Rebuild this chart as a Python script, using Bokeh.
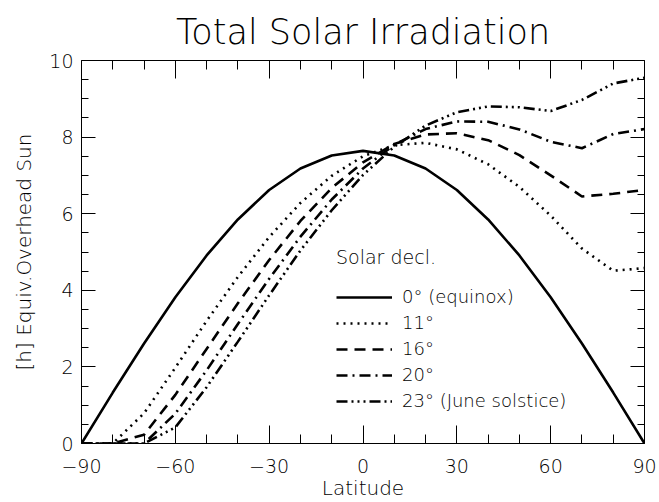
from bokeh.plotting import figure
from bokeh.models import FixedTicker, LinearAxis, Legend, LegendItem, Range1d
from bokeh.embed import file_html
from bokeh.resources import INLINE

# ---- data ----
latitude = [-90, -80, -70, -60, -50, -40, -30, -20, -10, 0, 10, 20, 30, 40, 50, 60, 70, 80, 90]
decl_0 = [0.00, 1.33, 2.61, 3.82, 4.91, 5.85, 6.62, 7.18, 7.52, 7.64, 7.52, 7.18, 6.62, 5.85, 4.91, 3.82, 2.61, 1.33, 0.00]
decl_11 = [0.00, 0.00, 0.79, 1.98, 3.20, 4.35, 5.39, 6.28, 6.99, 7.50, 7.79, 7.85, 7.68, 7.29, 6.70, 5.95, 5.09, 4.51, 4.58]
decl_16 = [0.00, 0.00, 0.23, 1.27, 2.47, 3.66, 4.79, 5.81, 6.67, 7.34, 7.82, 8.07, 8.10, 7.92, 7.53, 7.00, 6.45, 6.52, 6.62]
decl_20 = [0.00, 0.00, 0.00, 0.78, 1.91, 3.12, 4.30, 5.40, 6.37, 7.18, 7.80, 8.21, 8.41, 8.40, 8.20, 7.88, 7.71, 8.08, 8.21]
decl_23 = [0.00, 0.00, 0.00, 0.42, 1.47, 2.66, 3.87, 5.04, 6.09, 7.01, 7.75, 8.30, 8.65, 8.80, 8.78, 8.68, 8.97, 9.40, 9.55]
series_labels = ["0° (equinox)", "11°", "16°", "20°", "23° (June solstice)"]

x_ticks = [-90, -60, -30, 0, 30, 60, 90]
x_tick_labels = ["−90", "−60", "−30", "0", "30", "60", "90"]
x_minor = [-80, -70, -50, -40, -20, -10, 10, 20, 40, 50, 70, 80]
y_ticks = [0, 2, 4, 6, 8, 10]
y_tick_labels = ["0", "2", "4", "6", "8", "10"]
y_minor = [0.5, 1, 1.5, 2.5, 3, 3.5, 4.5, 5, 5.5, 6.5, 7, 7.5, 8.5, 9, 9.5]

# ---- styles ----
FONT = "'DejaVu Sans Light', 'DejaVu Sans'"
dashes = ["solid", "2 5", "11 7", "11 5 2 5", "11 4 2 4 2 4 2 4"]

p = figure(frame_width=563, frame_height=383,
           x_range=Range1d(-90, 90), y_range=Range1d(0, 10),
           output_backend="svg", toolbar_location=None,
           min_border_left=81, min_border_right=15, min_border_top=60, min_border_bottom=48)
p.xgrid.grid_line_color = None
p.ygrid.grid_line_color = None
p.outline_line_color = None
p.background_fill_color = "white"
p.border_fill_color = "white"

p.title.text = "Total Solar Irradiation"
p.title.align = "center"
p.title.text_font = FONT
p.title.text_font_size = "35px"
p.title.text_font_style = "normal"
p.title.text_color = "black"
p.title.standoff = 18

xt = FixedTicker(ticks=x_ticks, minor_ticks=x_minor)
yt = FixedTicker(ticks=y_ticks, minor_ticks=y_minor)

def style_axis(ax, major_len, minor_len, labels=True):
    ax.axis_line_color = "black"
    ax.axis_line_width = 1
    ax.major_tick_line_color = "black"
    ax.minor_tick_line_color = "black"
    ax.major_tick_in = major_len
    ax.major_tick_out = 0
    ax.minor_tick_in = minor_len
    ax.minor_tick_out = 0
    if labels:
        ax.major_label_text_font = FONT
        ax.major_label_text_font_size = "19px"
        ax.major_label_text_color = "black"
        ax.axis_label_text_font = FONT
        ax.axis_label_text_font_size = "20px"
        ax.axis_label_text_font_style = "normal"
        ax.axis_label_text_color = "black"
    else:
        ax.major_label_text_color = None
        ax.major_label_text_font_size = "1px"
        ax.major_label_standoff = 0

xa = p.xaxis[0]
xa.ticker = xt
xa.major_label_overrides = dict(zip(x_ticks, x_tick_labels))
xa.axis_label = "Latitude"
style_axis(xa, 18, 9)
xa.major_label_standoff = 15
xa.axis_label_standoff = 0

ya = p.yaxis[0]
ya.ticker = yt
ya.major_label_overrides = dict(zip(y_ticks, y_tick_labels))
ya.axis_label = "[h] Equiv.Overhead Sun"
style_axis(ya, 14, 7)
ya.major_label_standoff = 8
ya.axis_label_standoff = 10

top = LinearAxis(ticker=xt)
style_axis(top, 18, 9, labels=False)
p.add_layout(top, "above")
right = LinearAxis(ticker=yt)
style_axis(right, 14, 7, labels=False)
p.add_layout(right, "right")

series = [decl_0, decl_11, decl_16, decl_20, decl_23]
items = []
for vals, lab, dash in zip(series, series_labels, dashes):
    r = p.line(latitude, vals, line_color="black", line_width=2.6, line_dash=dash)
    items.append(LegendItem(label=lab, renderers=[r]))

legend = Legend(items=items, location=(255, 32), title="Solar decl.",
                title_text_font=FONT, title_text_font_size="19px", title_text_font_style="normal",
                title_text_color="black", title_standoff=18,
                label_text_font=FONT, label_text_font_size="18px", label_text_color="black",
                glyph_width=56, glyph_height=20, label_height=20, label_standoff=10,
                spacing=5, padding=0, margin=0,
                background_fill_alpha=0, border_line_color=None)
p.add_layout(legend)

open("out.html", "w").write(file_html(p, INLINE))
